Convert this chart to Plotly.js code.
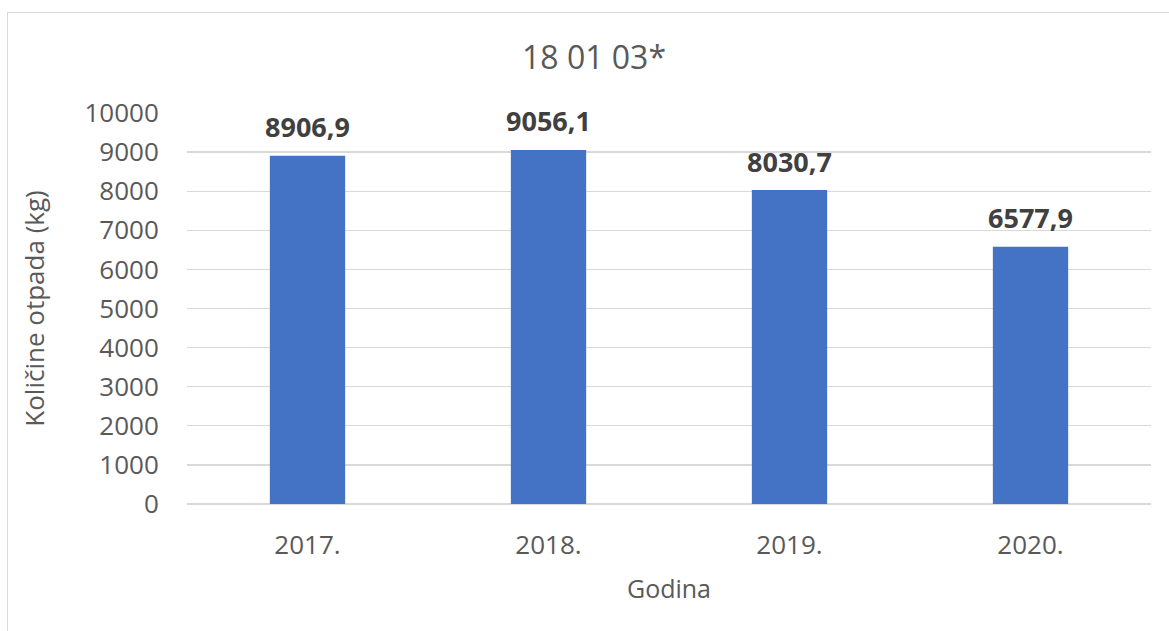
<!DOCTYPE html>
<html>
<head>
<meta charset="utf-8">
<script src="https://cdn.plot.ly/plotly-3.0.1.min.js"></script>
<style>
  html, body { margin: 0; padding: 0; background: #fff; overflow: hidden; }
  #wrap { position: relative; width: 1169px; height: 631px; }
  #chart { position: absolute; left: 0; top: 0; width: 1169px; height: 631px; }
  #frame { position: absolute; left: 7px; top: 12px; width: 1180px; height: 640px; border: 1px solid #d9d9d9; box-sizing: border-box; pointer-events: none; }
</style>
</head>
<body>
<div id="wrap">
  <div id="chart"></div>
  <div id="frame"></div>
</div>
<script>
const categories = ["2017.", "2018.", "2019.", "2020."];
const values = [8906.9, 9056.1, 8030.7, 6577.9];
const labels = ["8906,9", "9056,1", "8030,7", "6577,9"];
const yTicks = [0, 1000, 2000, 3000, 4000, 5000, 6000, 7000, 8000, 9000, 10000];

const FONT = '"Open Sans", "Noto Sans", sans-serif';
const xPos = categories.map((c, i) => i);

const trace = {
  type: 'bar',
  x: xPos,
  y: values,
  width: 0.3125,
  marker: { color: '#4472c4', line: { width: 0 } },
  hoverinfo: 'none'
};

const annotations = categories.map((c, i) => ({
  x: xPos[i], y: values[i], xref: 'x', yref: 'y',
  text: '<b>' + labels[i] + '</b>',
  showarrow: false,
  yanchor: 'middle',
  yshift: 29,
  font: { family: FONT, size: 27, color: '#404040' }
}));

const layout = {
  width: 1169,
  height: 631,
  margin: { l: 187, r: 18, t: 113, b: 127, pad: 0 },
  paper_bgcolor: 'rgba(0,0,0,0)',
  plot_bgcolor: 'rgba(0,0,0,0)',
  showlegend: false,
  title: {
    text: '18 01 03*',
    font: { family: FONT, size: 32, color: '#595959' },
    x: 594 / 1169, xanchor: 'center',
    y: 1 - 58 / 631, yanchor: 'middle'
  },
  xaxis: {
    type: 'linear',
    range: [-0.5, categories.length - 0.5],
    tickvals: xPos,
    ticktext: categories,
    showgrid: false,
    showline: false,
    zeroline: false,
    ticks: 'outside',
    ticklen: 18,
    tickcolor: 'rgba(0,0,0,0)',
    tickfont: { family: FONT, size: 26, color: '#595959' },
    title: {
      text: 'Godina',
      font: { family: FONT, size: 25, color: '#595959' },
      standoff: 19
    },
    fixedrange: true
  },
  yaxis: {
    type: 'linear',
    range: [0, 10000],
    tickvals: yTicks,
    ticktext: yTicks.map(String),
    showgrid: true,
    gridcolor: '#d9d9d9',
    gridwidth: 1.3,
    zeroline: true,
    zerolinecolor: '#d9d9d9',
    zerolinewidth: 1.3,
    showline: false,
    ticks: 'outside',
    ticklen: 22,
    tickcolor: 'rgba(0,0,0,0)',
    tickfont: { family: FONT, size: 26, color: '#595959' },
    title: {
      text: 'Količine otpada (kg)',
      font: { family: FONT, size: 26, color: '#595959' },
      standoff: 32
    },
    fixedrange: true
  },
  annotations: annotations
};

Plotly.newPlot('chart', [trace], layout, { displayModeBar: false, staticPlot: true });
</script>
</body>
</html>
